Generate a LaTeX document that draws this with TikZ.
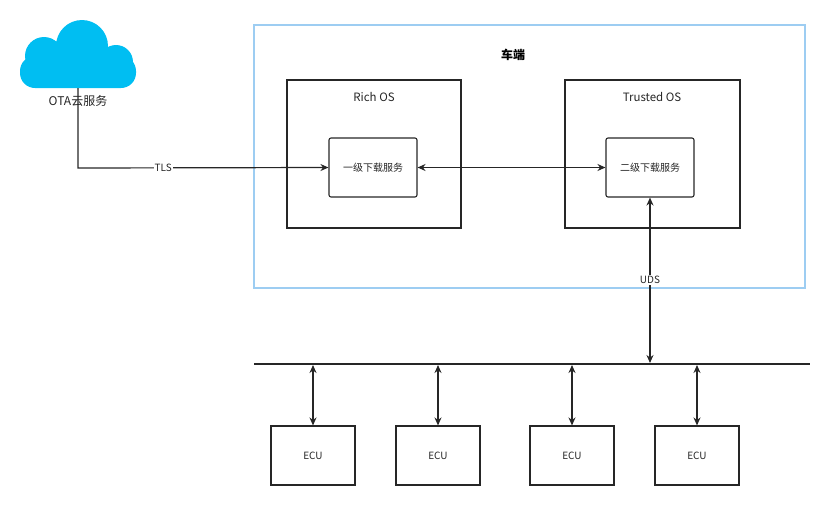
\documentclass[tikz,border=0pt]{standalone}
\usepackage{fontspec}
\setmainfont{Noto Sans CJK SC}
\usetikzlibrary{arrows.meta}
\definecolor{cloud}{HTML}{00BEF2}
\definecolor{outer}{HTML}{9DCDF2}
\begin{document}
\begin{tikzpicture}[x=1pt,y=-1pt,
  box/.style={draw=black!85,line width=1.1pt},
  lab/.style={font=\fontsize{10}{11}\selectfont,text=black!85},
  conn/.style={draw=black!85,line width=1.2pt},
  arr/.style={conn,-{Stealth[length=8pt,width=7pt]}},
  darr/.style={conn,{Stealth[length=8pt,width=7pt]}-{Stealth[length=8pt,width=7pt]}}]
\useasboundingbox (0,0) rectangle (831,507);
% cloud
\fill[cloud,rounded corners=15pt] (20,56) rectangle (136,88);
\fill[cloud] (44,56) circle (19) (82,46) circle (26) (116,62) circle (17);
\node[lab,font=\fontsize{12}{13}\selectfont] (ota) at (78,101) {OTA云服务};
\coordinate (cb) at (78,88);
% outer
\node[draw=outer,line width=1.2pt,minimum width=551pt,minimum height=263pt,inner sep=0] (car) at (529.5,156.5) {};
\node[font=\bfseries\fontsize{12}{13}\selectfont] (cl) at (513,55) {车端};
\node[box,minimum width=174pt,minimum height=148pt,inner sep=0] (rich) at (374,154) {};
\node[lab,font=\fontsize{11.5}{13}\selectfont] (richl) at (374,97) {Rich OS};
\node[box,minimum width=175pt,minimum height=148pt,inner sep=0] (trust) at (652.5,154) {};
\node[lab,font=\fontsize{11.5}{13}\selectfont] (trustl) at (652,97) {Trusted OS};
\node[box,rounded corners=2pt,minimum width=88pt,minimum height=59pt,inner sep=0,lab] (d1) at (373,167.5) {一级下载服务};
\node[box,rounded corners=2pt,minimum width=88pt,minimum height=59pt,inner sep=0,lab] (d2) at (650,167.5) {二级下载服务};
\coordinate (tc) at (78,168);
\draw[arr] (cb) -- (tc) -- (d1.west) node[pos=0.34,fill=white,inner sep=1pt,lab] (tls) {TLS};
\draw[darr] (d1.east) -- (d2.west);
\coordinate (bus1) at (254,364);
\coordinate (bus2) at (810,364);
\draw[conn] (bus1) -- (bus2);
\coordinate (ub) at (650,363);
\draw[darr] (ub) -- (d2.south) node[pos=0.5,fill=white,inner sep=1pt,lab] (uds) {UDS};
\foreach \x [count=\i] in {313,438,572,697}{
  \node[box,minimum width=84pt,minimum height=59pt,inner sep=0,lab] (e\i) at (\x,455.5) {ECU};
  \coordinate (b\i) at (\x,365);
  \draw[darr] (b\i) -- (e\i.north);
}
\end{tikzpicture}
\end{document}
